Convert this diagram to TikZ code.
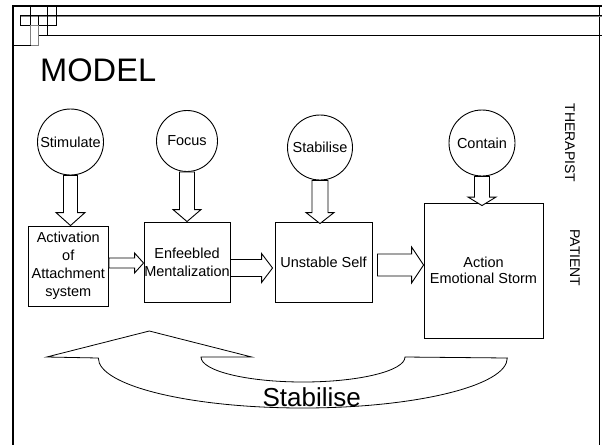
\documentclass[tikz,border=0pt]{standalone}
\usepackage{fontspec}
\setmainfont{Liberation Sans}
\usetikzlibrary{calc}
\tikzset{
  lbl/.style={font=\fontsize{14.5}{18}\selectfont, inner sep=0pt},
  circ/.style={lbl, circle, draw, line width=0.9pt},
  box/.style={lbl, rectangle, draw, line width=0.9pt, align=center},
  barrow/.style={draw, line width=0.9pt, fill=white, line join=miter},
  curv/.style={draw, line width=0.8pt, line join=miter},
  frm/.style={line width=0.9pt},
}
% vertical block arrow: from, to, shaft half width, head half width, head length
\newcommand\dnarrow[5]{%
  \draw[barrow] let \p1=(#1), \p2=(#2) in
   (\x1-#3,\y1) -- (\x1-#3,\y2+#5) -- (\x1-#4,\y2+#5) -- (\x1,\y2)
   -- (\x1+#4,\y2+#5) -- (\x1+#3,\y2+#5) -- (\x1+#3,\y1) -- cycle;}
% horizontal block arrow
\newcommand\rtarrow[5]{%
  \draw[barrow] let \p1=(#1), \p2=(#2) in
   (\x1,\y1+#3) -- (\x2-#5,\y1+#3) -- (\x2-#5,\y1+#4) -- (\x2,\y1)
   -- (\x2-#5,\y1-#4) -- (\x2-#5,\y1-#3) -- (\x1,\y1-#3) -- cycle;}
\begin{document}
\begin{tikzpicture}[x=1pt,y=-1pt]
\useasboundingbox (0,0) rectangle (602,445);
% frame and title bar decoration
\draw[line width=2.2pt] (602,5.6) -- (13,5.6) -- (13,445);
\draw[line width=1pt] (599,5.6) -- (599,445);
\draw[frm] (20,15) -- (602,15);
\draw[frm, gray] (20,16.6) -- (602,16.6);
\draw[frm] (38,35.2) -- (602,35.2);
\draw[frm] (20,15) rectangle (30.5,25.6);
\draw[frm] (20,25.6) -- (56.5,25.6);
\draw[frm] (30.5,5.6) -- (30.5,25.6);
\draw[frm] (38,15) -- (38,35.2);
\draw[frm] (47,5.6) -- (47,35.2);
\draw[frm] (56.5,5.6) -- (56.5,25.6);
\draw[frm, gray] (30.5,25.6) rectangle (38,45.5);
\draw[frm] (13,45.5) -- (30.5,45.5);
% title
\node[anchor=base west, inner sep=0pt, font=\fontsize{32.6}{36}\selectfont] (title) at (40,81) {MODEL};
% side labels
\node[rotate=-90, inner sep=0pt, font=\fontsize{14}{16}\selectfont] (ther) at (570,143) {THERAPIST};
\node[rotate=-90, inner sep=0pt, font=\fontsize{14}{16}\selectfont] (pat) at (575,258) {PATIENT};
% circles
\node[circ, minimum size=66pt] (c1) at (70.5,142) {Stimulate};
\node[circ, minimum size=61pt] (c2) at (187,141) {Focus};
\node[circ, minimum size=65pt] (c3) at (320,147.5) {Stabilise};
\node[circ, minimum size=66pt] (c4) at (482,143) {Contain};
% boxes
\node[box, minimum width=80.5pt, minimum height=80pt] (b1) at (68.25,266) {Activation\\of\\Attachment\\system};
\node[box, minimum width=86pt, minimum height=80pt] (b2) at (187,262) {Enfeebled\\Mentalization};
\node[box, minimum width=97pt, minimum height=80pt] (b3) at (323.5,262) {Unstable Self};
\node[box, minimum width=119pt, minimum height=135pt, font=\fontsize{14.5}{16.5}\selectfont] (b4) at (483.5,270.5) {Action\\Emotional Storm};
% vertical block arrows
\dnarrow{c1.south}{b1.north}{7pt}{14.5pt}{13pt}
\dnarrow{c2.south}{b2.north}{7.5pt}{14pt}{12pt}
\dnarrow{c3.south}{$(b3.north)+(0,2)$}{8pt}{14pt}{11pt}
\dnarrow{c4.south}{$(b4.north)+(0,3)$}{7.5pt}{14pt}{8.5pt}
% horizontal block arrows
\rtarrow{$(b1.east)+(0,-3)$}{b2.west}{5pt}{10pt}{9pt}
\rtarrow{$(b2.east)+(0,6)$}{$(b3.west)+(-2,0)$}{8.5pt}{14.5pt}{11pt}
\rtarrow{$(b3.east)+(5,3)$}{b4.west}{11pt}{18pt}{12pt}
% curved up arrow
\draw[curv] (46.7,357) -- (149.3,331) -- (251.7,357) -- (201,357)
  arc[start angle=180, end angle=360, x radius=102pt, y radius=25pt]
  -- (507.3,358)
  arc[start angle=0, end angle=-180, x radius=204.5pt, y radius=50pt]
  -- cycle;
\node[anchor=base, inner sep=0pt, font=\fontsize{26}{30}\selectfont] (stab) at (311.7,406) {Stabilise};
\end{tikzpicture}
\end{document}
